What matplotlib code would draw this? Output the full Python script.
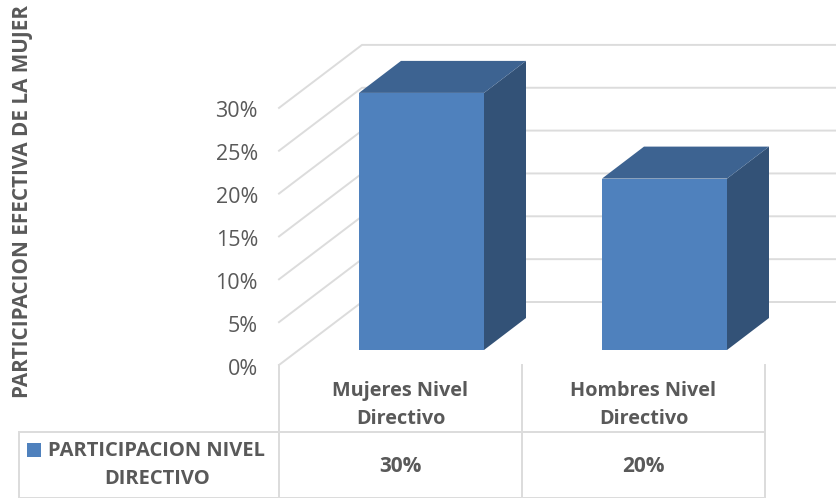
import matplotlib
matplotlib.use("Agg")
import matplotlib.pyplot as plt
from matplotlib.patches import Polygon, Rectangle

categories = ["Mujeres Nivel\nDirectivo", "Hombres Nivel\nDirectivo"]
values = [30, 20]
value_labels = ["30%", "20%"]
y_ticks = [0, 5, 10, 15, 20, 25, 30]
y_tick_labels = ["0%", "5%", "10%", "15%", "20%", "25%", "30%"]
series_name = "PARTICIPACION NIVEL\nDIRECTIVO"
y_title = "PARTICIPACION EFECTIVA DE LA MUJER"

W, H = 837, 498
PX_X = 243.0    # pixels per category
PX_Y = 8.57     # pixels per percent
X0, Y0 = 279, 365  # pixel of category 0 / value 0 on the front plane

GRID = "#dcdcdc"
TEXT = "#595959"
FRONT = "#4f81bd"
SIDE = "#335277"
TOP = "#3d6391"

plt.rcParams["font.family"] = ["Open Sans", "DejaVu Sans"]

fig = plt.figure(figsize=(W / 100, H / 100), dpi=100)
ax = fig.add_axes([0, 0, 1, 1])
ax.set_xlim(-X0 / PX_X, (W - X0) / PX_X)
ax.set_ylim((Y0 - H) / PX_Y, Y0 / PX_Y)
ax.axis("off")

# depth of the 3d box, in data units
DX = 83 / PX_X
DY = 63 / PX_Y


def px(x):
    return x / PX_X


def py(y):
    return y / PX_Y


# wall gridlines
for t in y_ticks:
    ax.plot([0, DX, ax.get_xlim()[1]], [t, t + DY, t + DY], color=GRID, lw=1.4, zorder=1,
            solid_joinstyle="miter")

# boxes
bar_w = 125 / PX_X
gap = 60 / PX_X
front_dx, front_dy = 20 / PX_X, 15 / PX_Y
side_dx, side_dy = 42 / PX_X, 32 / PX_Y
for i, v in enumerate(values):
    x0 = i + front_dx + gap
    x1 = x0 + bar_w
    y0 = front_dy
    y1 = v + front_dy
    ax.add_patch(Rectangle((x0, y0), bar_w, v, fc=FRONT, ec="none", zorder=3))
    ax.add_patch(Polygon([(x1, y0), (x1 + side_dx, y0 + side_dy), (x1 + side_dx, y1 + side_dy), (x1, y1)],
                         fc=SIDE, ec="none", zorder=3))
    ax.add_patch(Polygon([(x0, y1), (x0 + side_dx, y1 + side_dy), (x1 + side_dx, y1 + side_dy), (x1, y1)],
                         fc=TOP, ec="none", zorder=3))

# y tick labels
for t, lab in zip(y_ticks, y_tick_labels):
    ax.text(px(-21), t - py(4), lab, ha="right", va="center", fontsize=15.5, color=TEXT)

ax.text(px(23 - X0), py(Y0 - 201), y_title, rotation=90, ha="center", va="center",
        fontsize=14.9, fontweight="bold", color=TEXT)

# data table
row1, row2 = py(Y0 - 432), py(Y0 - 498)
left = px(19 - X0)
ax.plot([left, 2], [row1, row1], color=GRID, lw=1.4, zorder=1)
ax.plot([left, 2], [row2, row2], color=GRID, lw=1.4, zorder=1)
ax.plot([left, left], [row1, row2], color=GRID, lw=1.4, zorder=1)
for x in range(len(categories) + 1):
    ax.plot([x, x], [0, row2], color=GRID, lw=1.4, zorder=1)

for i, (c, lab) in enumerate(zip(categories, value_labels)):
    ax.text(i + 0.5, py(Y0 - 405), c, ha="center", va="center", fontsize=14.3, fontweight="bold",
            color=TEXT, linespacing=1.5)
    ax.text(i + 0.5, py(Y0 - 466), lab, ha="center", va="center", fontsize=15, fontweight="bold", color=TEXT)

ax.add_patch(Rectangle((px(27 - X0), py(Y0 - 457)), px(14), py(14), fc=FRONT, ec="none", zorder=3))
ax.text(px(157 - X0), py(Y0 - 465), series_name, ha="center", va="center", fontsize=14.5, fontweight="bold",
        color=TEXT, linespacing=1.5)

fig.savefig("out.png", dpi=100)
